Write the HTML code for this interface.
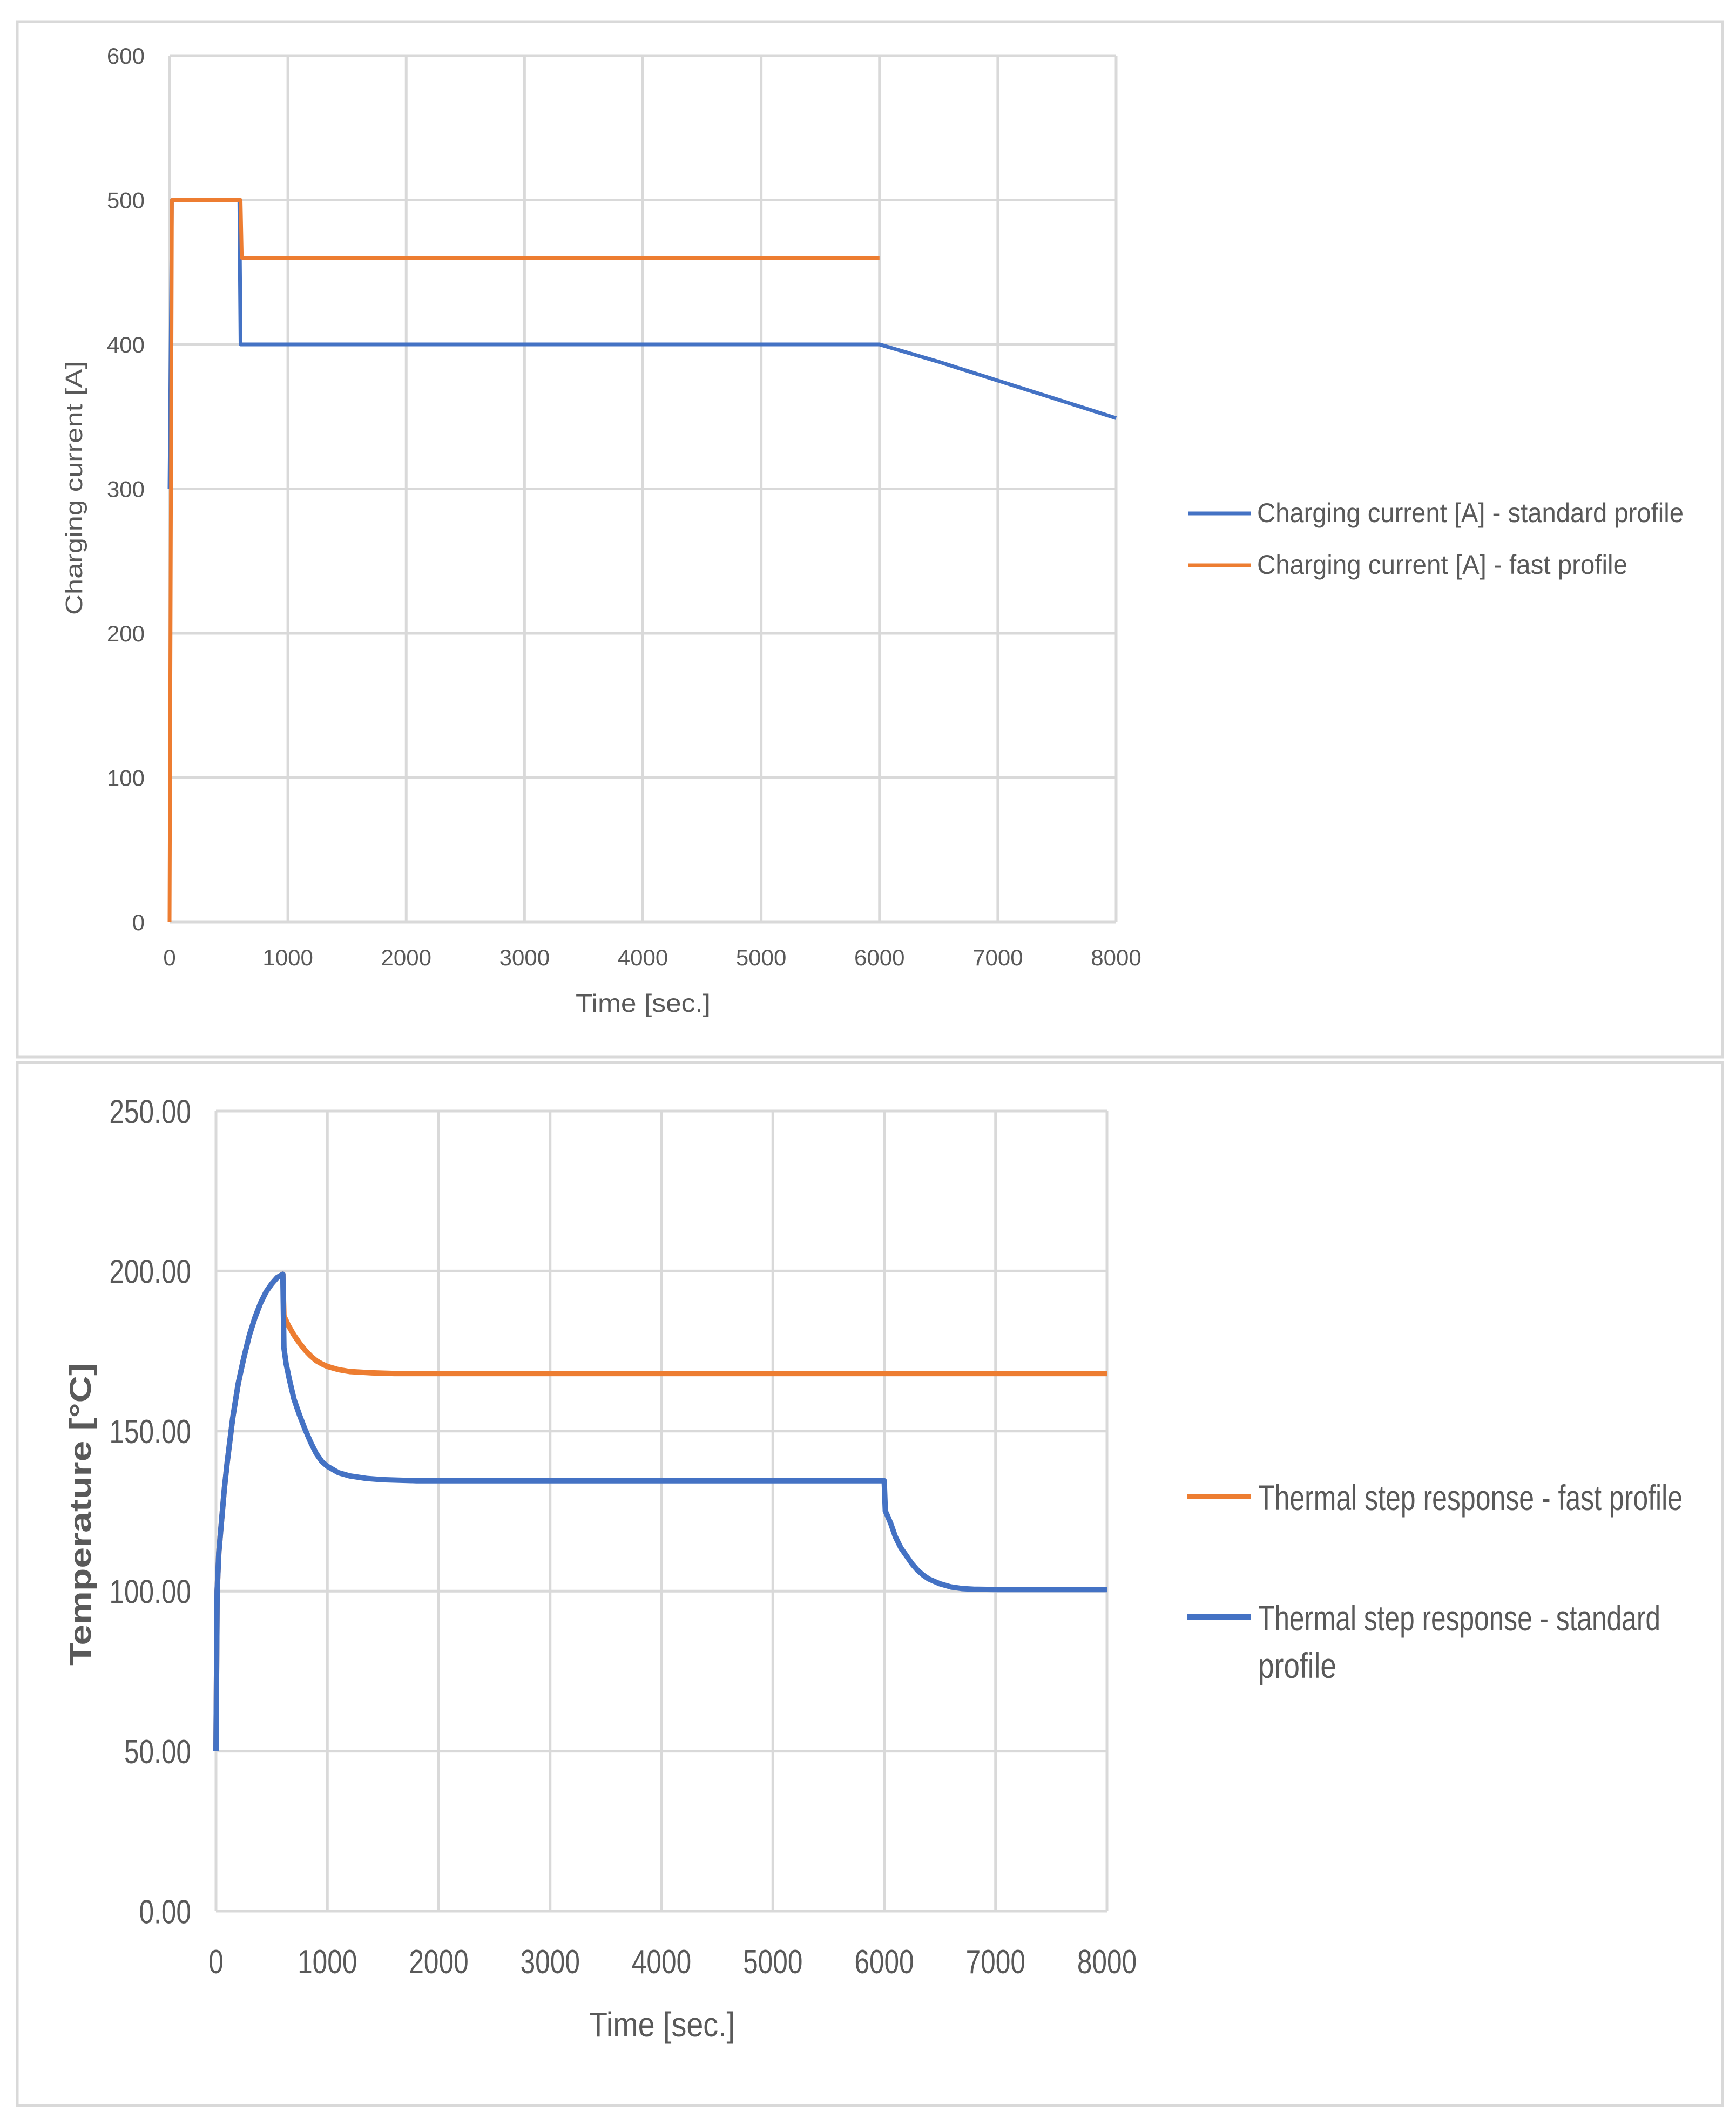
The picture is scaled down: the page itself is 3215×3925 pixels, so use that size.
<!DOCTYPE html>
<html><head><meta charset="utf-8"><style>
html,body{margin:0;padding:0;background:#fff;}
svg{display:block;}
text{font-family:"Liberation Sans",sans-serif;fill:#595959;}
</style></head><body>
<svg id="svg" width="3215" height="3925" viewBox="0 0 3215 3925" xmlns="http://www.w3.org/2000/svg">
<rect x="0" y="0" width="3215" height="3925" fill="#fff"/>
<rect x="32" y="40" width="3158" height="1918" fill="#fff" stroke="#d9d9d9" stroke-width="5"/>
<rect x="32" y="1968" width="3158" height="1932" fill="#fff" stroke="#d9d9d9" stroke-width="5"/>
<g id="c1"></g>
<g id="c2"></g>
</svg>
<script>
// Chart 1 data
const c1XTicks = [0,1000,2000,3000,4000,5000,6000,7000,8000];
const c1YTicks = [0,100,200,300,400,500,600];
const c1StdX = [0,20,590,600,6000,6500,7000,7500,8000];
const c1StdY = [300,500,500,400,400,388,375,362,349];
const c1FastX = [0,20,600,610,6000];
const c1FastY = [0,500,500,460,460];
// Chart 2 data
const c2XTicks = [0,1000,2000,3000,4000,5000,6000,7000,8000];
const c2YTicks = [0,50,100,150,200,250];
const c2YLabels = ["0.00","50.00","100.00","150.00","200.00","250.00"];
const c2StdX = [0,10,25,50,75,100,150,200,250,300,350,400,450,500,550,600,610,630,660,700,750,800,850,900,950,1000,1100,1200,1350,1500,1800,6000,6010,6030,6060,6100,6150,6200,6250,6300,6350,6400,6500,6600,6700,6800,7000,8000];
const c2StdY = [50,100,112,122,132,140,154,165,173,180,185.5,190,193.5,196,198,199,176,171,166,160,155,150.5,146.5,143,140.5,139,137,136,135.2,134.8,134.5,134.5,125,123.5,121,117,113.5,111,108.5,106.5,105,103.8,102.3,101.3,100.8,100.6,100.5,100.5];
const c2FastX = [0,10,25,50,75,100,150,200,250,300,350,400,450,500,550,600,610,650,700,750,800,850,900,950,1000,1100,1200,1400,1600,8000];
const c2FastY = [50,100,112,122,132,140,154,165,173,180,185.5,190,193.5,196,198,199,186,183,180,177.5,175.3,173.5,172,171,170.2,169.2,168.6,168.2,168,168];

const NS="http://www.w3.org/2000/svg";
function mk(parent,tag,attrs,txt){const e=document.createElementNS(NS,tag);for(const k in attrs)e.setAttribute(k,attrs[k]);if(txt!==undefined)e.textContent=txt;parent.appendChild(e);return e;}

function chart(g,o){
  const sx=v=>o.x0+(v-o.xmin)/(o.xmax-o.xmin)*(o.x1-o.x0);
  const sy=v=>o.y0-(v-o.ymin)/(o.ymax-o.ymin)*(o.y0-o.y1);
  o.xt.forEach(v=>{const l=mk(g,'line',{x1:sx(v),x2:sx(v),y1:o.y1,y2:o.y0,stroke:'#d9d9d9','stroke-width':5});
    
    
    const t=mk(g,'text',{x:sx(v),y:o.xly,'font-size':o.fs,'text-anchor':'middle'},String(v));
    
    
    if(o.cond)t.setAttribute('transform',`translate(${sx(v)},0) scale(0.8,1) translate(${-sx(v)},0)`);
  });
  o.yt.forEach((v,i)=>{const l=mk(g,'line',{x1:o.x0,x2:o.x1,y1:sy(v),y2:sy(v),stroke:'#d9d9d9','stroke-width':5});
    
    
    const t=mk(g,'text',{x:o.ylx,y:sy(v)+o.fs*0.36,'font-size':o.fs,'text-anchor':'end'},o.yl?o.yl[i]:String(v));
    
    
    if(o.cond)t.setAttribute('transform',`translate(${o.ylx},0) scale(0.8,1) translate(${-o.ylx},0)`);
  });
  o.series.forEach(s=>{
    const d=s.x.map((v,i)=>(i?'L':'M')+sx(v).toFixed(1)+','+sy(s.y[i]).toFixed(1)).join(' ');
    const p=mk(g,'path',{d:d,fill:'none',stroke:s.c,'stroke-width':o.lw,'stroke-linejoin':'round'});
    
    
  });
}

chart(document.getElementById('c1'),{x0:314,x1:2067,y0:1708,y1:103,xmin:0,xmax:8000,ymin:0,ymax:600,
  xt:c1XTicks,yt:c1YTicks,fs:42,xly:1788,ylx:268,lw:7,
  series:[{x:c1StdX,y:c1StdY,c:'#4472c4',n:'standard-current-line'},{x:c1FastX,y:c1FastY,c:'#ed7d31',n:'fast-current-line'}]});
chart(document.getElementById('c2'),{x0:400,x1:2050,y0:3540,y1:2058,xmin:0,xmax:8000,ymin:0,ymax:250,
  xt:c2XTicks,yt:c2YTicks,yl:c2YLabels,fs:62,xly:3655,ylx:354,lw:10,cond:true,
  series:[{x:c2FastX,y:c2FastY,c:'#ed7d31',n:'fast-thermal-line'},{x:c2StdX,y:c2StdY,c:'#4472c4',n:'standard-thermal-line'}]});
</script>
<div style="position:absolute;left:0;top:0;width:3215px;height:3925px;pointer-events:none">
<svg width="3215" height="3925" xmlns="http://www.w3.org/2000/svg">
<text x="1191" y="1874" font-size="46" text-anchor="middle" textLength="250" lengthAdjust="spacingAndGlyphs">Time [sec.]</text>
<text transform="translate(152,904) rotate(-90)" font-size="44" text-anchor="middle" textLength="470" lengthAdjust="spacingAndGlyphs">Charging current [A]</text>
<line x1="2201" y1="951" x2="2317" y2="951" stroke="#4472c4" stroke-width="7"/>
<text x="2328" y="967" font-size="50" textLength="790" lengthAdjust="spacingAndGlyphs">Charging current [A] - standard profile</text>
<line x1="2201" y1="1047" x2="2317" y2="1047" stroke="#ed7d31" stroke-width="7"/>
<text x="2328" y="1063" font-size="50" textLength="686" lengthAdjust="spacingAndGlyphs">Charging current [A] - fast profile</text>

<text x="1226" y="3772" font-size="64" text-anchor="middle" textLength="270" lengthAdjust="spacingAndGlyphs">Time [sec.]</text>
<text transform="translate(168,2805) rotate(-90)" font-size="56" font-weight="bold" text-anchor="middle" textLength="560" lengthAdjust="spacingAndGlyphs">Temperature [°C]</text>
<line x1="2198" y1="2772" x2="2317" y2="2772" stroke="#ed7d31" stroke-width="10"/>
<text x="2330" y="2797" font-size="66" textLength="786" lengthAdjust="spacingAndGlyphs">Thermal step response - fast profile</text>
<line x1="2198" y1="2995" x2="2317" y2="2995" stroke="#4472c4" stroke-width="10"/>
<text x="2330" y="3020" font-size="66" textLength="745" lengthAdjust="spacingAndGlyphs">Thermal step response - standard</text>
<text x="2330" y="3108" font-size="66" textLength="145" lengthAdjust="spacingAndGlyphs">profile</text>
</svg></div>
</body></html>
